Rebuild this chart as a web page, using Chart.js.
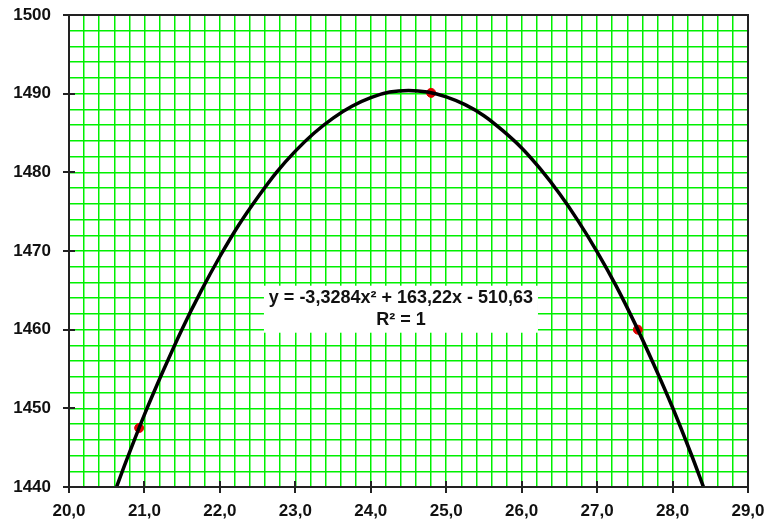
<!DOCTYPE html>
<html>
<head>
<meta charset="utf-8">
<script src="https://cdn.jsdelivr.net/npm/chart.js@4/dist/chart.umd.min.js"></script>
<style>
  html, body { margin: 0; padding: 0; background: #fff; }
  #wrap { width: 766px; height: 523px; position: relative; }
</style>
</head>
<body>
<div id="wrap"><canvas id="chart"></canvas></div>
<script>
// measured points (red markers)
const pointX = [20.93, 24.80, 27.54];
const pointY = [1447.5, 1490.1, 1460.0];

// trendline
const curveX = [20.63, 20.75, 21.0, 21.25, 21.5, 21.75, 22.0, 22.25, 22.5, 22.75, 23.0, 23.25, 23.5, 23.75,
                24.0, 24.25, 24.5, 24.75, 25.0, 25.25, 25.5, 25.75, 26.0, 26.25, 26.5, 26.75, 27.0, 27.25,
                27.5, 27.75, 28.0, 28.25, 28.41];
const curveY = [1440.0, 1443.1, 1449.2, 1454.8, 1460.1, 1464.9, 1469.3, 1473.3, 1476.8, 1480.0, 1482.7, 1485.0, 1486.9, 1488.4,
                1489.5, 1490.2, 1490.4, 1490.2, 1489.6, 1488.6, 1487.2, 1485.3, 1483.1, 1480.4, 1477.3, 1473.8, 1469.9, 1465.6,
                1460.8, 1455.6, 1450.1, 1444.1, 1440.0];

const trendLabel = ['y = -3,3284x\u00B2 + 163,22x - 510,63', 'R\u00B2 = 1'];
const labelAnchor = { x: 24.40, y: 1462.6 };

const FONT = "'Liberation Sans', Arial, sans-serif";

const frame = {
  id: 'frame',
  afterDraw(chart) {
    const ctx = chart.ctx;
    const a = chart.chartArea;
    const xs = chart.scales.x, ys = chart.scales.y;
    ctx.save();
    // label box
    ctx.font = 'bold 18px ' + FONT;
    const cx = xs.getPixelForValue(labelAnchor.x);
    const cy = ys.getPixelForValue(labelAnchor.y);
    const w = 274, h = 47;
    ctx.fillStyle = '#fff';
    ctx.fillRect(cx - w / 2, cy - h / 2, w, h);
    ctx.fillStyle = '#111';
    ctx.textAlign = 'center';
    ctx.textBaseline = 'middle';
    ctx.fillText(trendLabel[0], cx, cy - 11);
    ctx.fillText(trendLabel[1], cx, cy + 11);

    // plot border
    ctx.strokeStyle = '#222';
    ctx.lineWidth = 2;
    ctx.strokeRect(a.left, a.top, a.right - a.left, a.bottom - a.top);
    // major tick marks crossing the axes
    ctx.beginPath();
    for (let v = 20; v <= 29; v++) {
      const px = Math.round(xs.getPixelForValue(v));
      ctx.moveTo(px, a.bottom - 6);
      ctx.lineTo(px, a.bottom + 6);
    }
    for (let v = 1440; v <= 1500; v += 10) {
      const py = Math.round(ys.getPixelForValue(v));
      ctx.moveTo(a.left - 6, py);
      ctx.lineTo(a.left + 6, py);
    }
    ctx.stroke();
    ctx.restore();
  }
};

new Chart(document.getElementById('chart'), {
  type: 'scatter',
  data: {
    datasets: [{
      label: 'trend',
      data: curveX.map((x, i) => ({ x: x, y: curveY[i] })),
      showLine: true,
      borderColor: '#000',
      borderWidth: 3.5,
      pointRadius: 0,
      tension: 0.3,
      order: 0
    }, {
      label: 'points',
      data: pointX.map((x, i) => ({ x: x, y: pointY[i] })),
      backgroundColor: '#e00000',
      borderColor: '#e00000',
      pointRadius: 4.5,
      order: 1
    }]
  },
  options: {
    responsive: true,
    maintainAspectRatio: false,
    animation: false,
    layout: { padding: { top: 15, right: 18, left: 0, bottom: 0 } },
    plugins: { legend: { display: false }, tooltip: { enabled: false } },
    scales: {
      x: {
        type: 'linear',
        min: 20, max: 29,
        afterFit: s => { s.height = 36; s.paddingLeft = 0; s.paddingRight = 0; },
        grid: { color: '#00f000', lineWidth: 1.5, drawTicks: false },
        border: { display: false },
        ticks: {
          stepSize: 0.2,
          autoSkip: false,
          maxRotation: 0,
          padding: 14,
          color: '#111',
          font: { family: FONT, size: 17, weight: 'bold' },
          callback: v => Math.abs(v - Math.round(v)) < 1e-6 ? v.toFixed(1).replace('.', ',') : ''
        }
      },
      y: {
        min: 1440, max: 1500,
        afterFit: s => { s.width = 69; s.paddingTop = 0; s.paddingBottom = 0; },
        grid: { color: '#00f000', lineWidth: 1.5, drawTicks: false },
        border: { display: false },
        ticks: {
          stepSize: 2,
          autoSkip: false,
          padding: 18,
          color: '#111',
          font: { family: FONT, size: 17, weight: 'bold' },
          callback: v => v % 10 === 0 ? String(v) : ''
        }
      }
    }
  },
  plugins: [frame]
});
</script>
</body>
</html>
